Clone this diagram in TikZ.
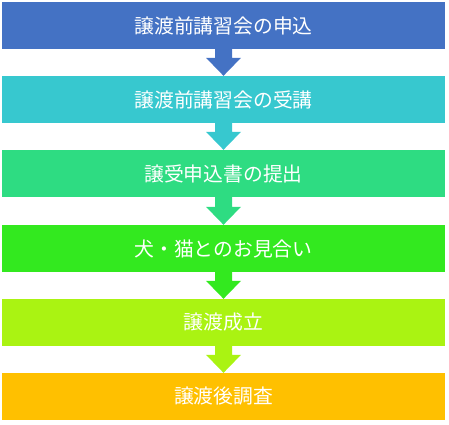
\documentclass[tikz,border=0pt]{standalone}
\usepackage{fontspec}
\setmainfont{Noto Sans CJK JP}
\usetikzlibrary{calc}
\definecolor{cA}{RGB}{68,114,196}
\definecolor{cB}{RGB}{55,200,207}
\definecolor{cC}{RGB}{46,220,130}
\definecolor{cD}{RGB}{51,233,31}
\definecolor{cE}{RGB}{170,243,18}
\definecolor{cF}{RGB}{255,192,0}
\newcommand\flowarr[3]{%
  \fill[#3] ($(#1.south)+(-8.5,-1)$) -- ($(#1.south)+(8.5,-1)$) -- ($(#2.north)+(8.5,-18)$) -- ($(#2.north)+(17.5,-18)$) -- (#2.north) -- ($(#2.north)+(-17.5,-18)$) -- ($(#2.north)+(-8.5,-18)$) -- cycle;}
\begin{document}
\begin{tikzpicture}[x=1pt,y=-1pt,
  stage/.style={minimum width=443pt,minimum height=47pt,inner sep=0pt,text=white,font=\fontsize{19.8pt}{22pt}\selectfont}]
\useasboundingbox (0,0) rectangle (449,424);
\node[stage,fill=cA] (s1) at (223.5,25.5) {譲渡前講習会の申込};
\node[stage,fill=cB] (s2) at (223.5,99.5) {譲渡前講習会の受講};
\node[stage,fill=cC] (s3) at (223.5,173.5) {譲受申込書の提出};
\node[stage,fill=cD] (s4) at (223.5,248.5) {犬・猫とのお見合い};
\node[stage,fill=cE] (s5) at (223.5,322.5) {譲渡成立};
\node[stage,fill=cF] (s6) at (223.5,396.5) {譲渡後調査};
\flowarr{s1}{s2}{cA}
\flowarr{s2}{s3}{cB}
\flowarr{s3}{s4}{cC}
\flowarr{s4}{s5}{cD}
\flowarr{s5}{s6}{cE}
\end{tikzpicture}
\end{document}
